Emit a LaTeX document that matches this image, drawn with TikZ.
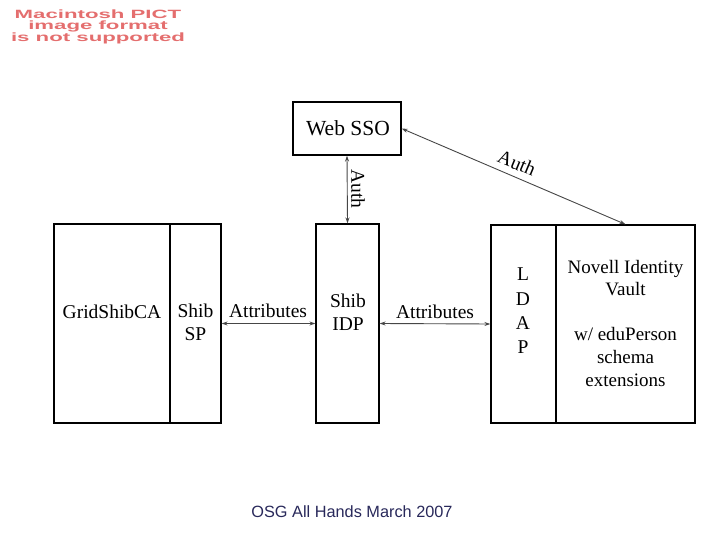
\documentclass[tikz,border=0pt]{standalone}
\usepackage{fontspec}
\setmainfont{Liberation Serif}
\newfontfamily\labelsans{Liberation Sans}
\usetikzlibrary{arrows.meta}
\definecolor{pictred}{RGB}{228,110,110}
\definecolor{footnavy}{RGB}{40,40,90}
\definecolor{linegray}{RGB}{70,70,70}
\begin{document}
\begin{tikzpicture}[x=1pt,y=-1pt,
  box/.style={draw=black,line width=1.3pt,inner sep=0pt},
  txt/.style={font=\fontsize{19.5}{23}\selectfont,inner sep=0pt,align=center},
  arr/.style={draw=linegray,line width=0.9pt,{Stealth[length=6pt,width=4pt]}-{Stealth[length=6pt,width=4pt]}}]
\useasboundingbox (0,0) rectangle (720,540);
% warning text
\node[text=pictred,font=\labelsans\bfseries\fontsize{12}{10.8}\selectfont,align=center,xscale=1.85,inner sep=0pt] (pict) at (98,27) {Macintosh PICT\\image format\\is not supported};
% boxes
\node[box,minimum width=108pt,minimum height=53pt] (web) at (347,128.5) {};
\node[box,minimum width=116pt,minimum height=199pt] (gca) at (112,323.5) {};
\node[box,minimum width=51pt,minimum height=199pt] (sp) at (195.5,323.5) {};
\node[box,minimum width=63pt,minimum height=199pt] (idp) at (347.5,323.5) {};
\node[box,minimum width=65pt,minimum height=198pt] (ldap) at (523.5,324) {};
\node[box,minimum width=139pt,minimum height=198pt] (nov) at (625.5,324) {};
% texts
\node[txt,font=\fontsize{21.5}{24}\selectfont] (tweb) at (348,128) {Web SSO};
\node[txt] (tgca) at (112,312) {GridShibCA};
\node[txt] (tsp) at (195.5,322) {Shib\\SP};
\node[txt] (tidp) at (348,312) {Shib\\IDP};
\node[txt,font=\fontsize{19.5}{24.3}\selectfont] (tldap) at (523,311) {L\\D\\A\\P};
\node[txt,font=\fontsize{19}{22.6}\selectfont] (tnov) at (625.5,323) {Novell Identity\\Vault\\[22.6pt]w/ eduPerson\\schema\\extensions};
% connectors
\draw[arr] (sp.east) -- (idp.west);
\draw[arr] (idp.east) -- (ldap.west);
\draw[arr] (web.south) -- (idp.north);
\draw[arr] (web.east) -- (nov.north);
% connector labels
\node[txt] (la1) at (268,311) {Attributes};
\node[txt] (la2) at (435,312) {Attributes};
\node[txt,rotate=-90] (lauth1) at (358,189) {Auth};
\node[txt,rotate=-22.6] (lauth2) at (517,163) {Auth};
% footer
\node[text=footnavy,font=\labelsans\fontsize{16.3}{18}\selectfont,inner sep=0pt] (foot) at (352,512) {OSG All Hands March 2007};
\end{tikzpicture}
\end{document}
